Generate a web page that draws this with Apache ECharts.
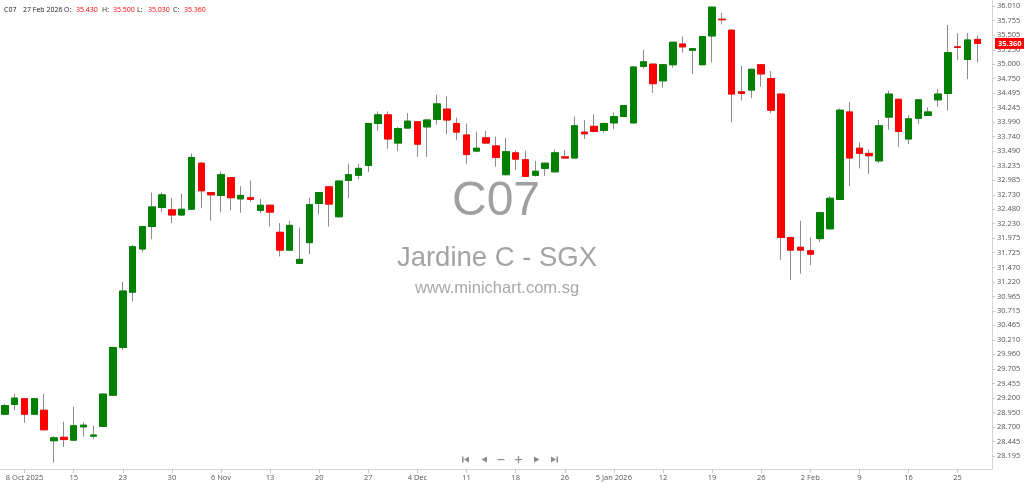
<!DOCTYPE html>
<html><head><meta charset="utf-8">
<script src="https://cdn.jsdelivr.net/npm/echarts@6/dist/echarts.min.js"></script>
<style>html,body{margin:0;padding:0;background:#fff}#c{width:1024px;height:484px}</style>
</head><body><div id="c"></div>
<script>
const symbol = 'C07';
const stockName = 'Jardine C - SGX';
const website = 'www.minichart.com.sg';

const dates = [
 '2025-10-06','2025-10-07','2025-10-08','2025-10-09','2025-10-10','2025-10-13','2025-10-14','2025-10-15','2025-10-16','2025-10-17',
 '2025-10-21','2025-10-22','2025-10-23','2025-10-24','2025-10-27','2025-10-28','2025-10-29','2025-10-30','2025-10-31',
 '2025-11-03','2025-11-04','2025-11-05','2025-11-06','2025-11-07','2025-11-10','2025-11-11','2025-11-12','2025-11-13','2025-11-14',
 '2025-11-17','2025-11-18','2025-11-19','2025-11-20','2025-11-21','2025-11-24','2025-11-25','2025-11-26','2025-11-27','2025-11-28',
 '2025-12-01','2025-12-02','2025-12-03','2025-12-04','2025-12-05','2025-12-08','2025-12-09','2025-12-10','2025-12-11','2025-12-12',
 '2025-12-15','2025-12-16','2025-12-17','2025-12-18','2025-12-19','2025-12-22','2025-12-23','2025-12-24','2025-12-26','2025-12-29',
 '2025-12-30','2025-12-31',
 '2026-01-02','2026-01-05','2026-01-06','2026-01-07','2026-01-08','2026-01-09','2026-01-12','2026-01-13','2026-01-14','2026-01-15',
 '2026-01-16','2026-01-19','2026-01-20','2026-01-21','2026-01-22','2026-01-23','2026-01-26','2026-01-27','2026-01-28','2026-01-29','2026-01-30',
 '2026-02-02','2026-02-03','2026-02-04','2026-02-05','2026-02-06','2026-02-09','2026-02-10','2026-02-11','2026-02-12','2026-02-13',
 '2026-02-16','2026-02-19','2026-02-20','2026-02-23','2026-02-24','2026-02-25','2026-02-26','2026-02-27'
];
const open = [
 28.92,29.09,29.19,28.92,28.99,28.46,28.52,28.47,28.70,28.54,
 28.71,29.25,30.08,31.04,31.79,32.18,32.51,32.47,32.38,32.48,
 33.28,32.77,32.72,33.03,32.66,32.68,32.46,32.55,32.08,31.77,
 31.54,31.90,32.58,32.87,32.35,32.98,33.07,33.24,33.97,34.12,
 33.63,33.89,34.00,33.91,34.04,34.22,33.97,33.77,33.49,33.72,
 33.58,33.08,33.46,33.34,33.07,33.19,33.13,33.39,33.37,33.82,
 33.92,33.85,33.98,34.09,33.98,34.96,35.00,34.71,34.99,35.35,
 35.24,34.99,35.49,35.78,35.59,34.52,34.55,34.99,34.75,34.48,
 31.99,31.82,31.76,31.97,32.14,32.65,34.17,33.54,33.45,33.32,
 34.08,34.39,33.70,34.06,34.11,34.38,34.49,35.30,35.08,35.43
];
const high = [
 29.10,29.28,29.20,29.20,29.28,28.54,28.79,29.05,28.78,28.72,
 29.27,30.09,31.22,31.86,32.18,32.77,32.77,32.68,32.75,33.45,
 33.30,32.78,33.14,33.04,32.88,32.98,32.66,32.56,32.24,32.28,
 32.16,32.68,32.78,32.88,32.98,33.27,33.27,33.98,34.18,34.18,
 33.91,34.15,34.01,34.04,34.47,34.44,34.07,33.97,33.83,33.84,
 33.74,33.72,33.50,33.50,33.32,33.29,33.52,33.51,34.09,34.03,
 34.13,33.98,34.16,34.29,34.96,35.25,35.01,35.00,35.39,35.48,
 35.28,35.49,36.00,35.89,35.60,34.97,34.92,35.00,34.88,34.49,
 32.00,32.28,31.99,32.43,32.71,34.23,34.34,33.64,33.52,34.03,
 34.54,34.40,34.12,34.39,34.25,34.57,35.68,35.54,35.54,35.50
];
const low = [
 28.91,28.99,28.77,28.91,28.64,28.08,28.35,28.46,28.53,28.49,
 28.70,29.24,30.04,30.88,31.73,31.96,32.43,32.24,32.37,32.47,
 32.50,32.28,32.43,32.46,32.42,32.61,32.41,32.18,31.66,31.76,
 31.53,31.70,32.39,32.18,32.34,32.67,33.00,33.13,33.84,33.53,
 33.49,33.88,33.39,33.39,33.95,33.78,33.68,33.27,33.48,33.62,
 33.22,33.07,33.16,33.04,33.05,33.06,33.12,33.36,33.36,33.70,
 33.82,33.81,33.87,34.08,33.97,34.92,34.50,34.59,34.94,35.20,
 34.83,34.98,35.03,35.69,33.99,34.37,34.41,34.61,34.15,31.60,
 31.25,31.36,31.51,31.91,32.13,32.64,32.88,33.19,33.09,33.28,
 33.86,33.56,33.61,33.96,34.10,34.26,34.19,35.07,34.74,35.03
];
const close = [
 29.07,29.20,28.92,29.19,28.65,28.51,28.48,28.72,28.73,28.56,
 29.27,30.08,31.06,31.83,32.18,32.52,32.73,32.38,32.48,33.38,
 32.80,32.73,33.08,32.68,32.72,32.65,32.55,32.43,31.77,32.20,
 31.61,32.56,32.77,32.57,32.97,33.08,33.19,33.97,34.12,33.70,
 33.88,34.01,33.61,34.03,34.31,34.03,33.82,33.43,33.54,33.63,
 33.38,33.48,33.35,33.05,33.14,33.28,33.46,33.37,33.93,33.79,
 33.83,33.97,34.09,34.28,34.95,35.04,34.66,34.99,35.38,35.30,
 35.27,35.48,35.99,35.77,34.48,34.49,34.91,34.83,34.20,31.99,
 31.77,31.77,31.70,32.42,32.67,34.20,33.37,33.45,33.41,33.93,
 34.48,33.83,34.05,34.38,34.17,34.48,35.20,35.29,35.42,35.36
];
const yTickLabels = [
 '36.010','35.755','35.505','35.250','35.000','34.750','34.495','34.245','33.990','33.740',
 '33.490','33.235','32.985','32.730','32.480','32.230','31.975','31.725','31.470','31.220',
 '30.965','30.715','30.465','30.210','29.960','29.705','29.455','29.200','28.950','28.700',
 '28.445','28.195'
];

const MONTHS = ['Jan','Feb','Mar','Apr','May','Jun','Jul','Aug','Sep','Oct','Nov','Dec'];
const FIRST_LABEL = 2, LABEL_STEP = 5;
function isLabelIdx(i){ return i >= FIRST_LABEL && i < dates.length && (i - FIRST_LABEL) % LABEL_STEP === 0; }
const xLabelText = {};
(function(){
  let prevM = null, prevY = null;
  for (let i = 0; i < dates.length; i++) {
    if (!isLabelIdx(i)) continue;
    const [y, m, d] = dates[i].split('-').map(Number);
    let t = String(d);
    if (prevM === null || m !== prevM) t = d + ' ' + MONTHS[m - 1];
    if (prevY === null || y !== prevY) t += ' ' + y;
    xLabelText[i] = t;
    prevM = m; prevY = y;
  }
})();

const n = dates.length;
const wickData = dates.map((_, i) => [open[i], close[i], low[i], high[i]]);
const bodyData = dates.map((_, i) => [open[i], close[i], Math.min(open[i], close[i]), Math.max(open[i], close[i])]);
const last = n - 1;
const lastClose = close[last];

function fmtHeaderDate(s){ const [y,m,d] = s.split('-').map(Number); return d + ' ' + MONTHS[m-1] + ' ' + y; }

const FONT = '"Open Sans", "DejaVu Sans", sans-serif';
const headerParts = [
  {x: 4, t: symbol, c: '#222'},
  {x: 23, t: fmtHeaderDate(dates[last]), c: '#222'},
  {x: 64, t: 'O:', c: '#222'},
  {x: 76, t: open[last].toFixed(3), c: '#ff0000'},
  {x: 102, t: 'H:', c: '#222'},
  {x: 113, t: high[last].toFixed(3), c: '#ff0000'},
  {x: 137, t: 'L:', c: '#222'},
  {x: 148, t: low[last].toFixed(3), c: '#ff0000'},
  {x: 173, t: 'C:', c: '#222'},
  {x: 184, t: close[last].toFixed(3), c: '#ff0000'}
];

const navColor = '#8a8a8a';
const graphics = [
  {type:'text', z: 0, silent: true, style:{text: symbol, font: '48px "Liberation Sans", Arial, sans-serif', fill: '#a0a0a0', align: 'center', verticalAlign: 'middle'}, position: [496, 202]},
  {type:'text', z: 0, silent: true, style:{text: stockName, font: '27.5px "Liberation Sans", Arial, sans-serif', fill: '#a3a3a3', align: 'center', verticalAlign: 'middle'}, position: [497, 258]},
  {type:'text', z: 0, silent: true, style:{text: website, font: '16.5px "Liberation Sans", Arial, sans-serif', fill: '#a8a8a8', align: 'center', verticalAlign: 'middle'}, position: [497, 288]},
  {type:'rect', shape:{x: 462, y: 456.5, width: 1.5, height: 6}, style:{fill: navColor}},
  {type:'polygon', shape:{points:[[469,456.5],[469,462.5],[464,459.5]]}, style:{fill: navColor}},
  {type:'polygon', shape:{points:[[487,456.5],[487,462.5],[481.5,459.5]]}, style:{fill: navColor}},
  {type:'rect', shape:{x: 497.5, y: 459, width: 7, height: 1.2}, style:{fill: navColor}},
  {type:'rect', shape:{x: 515, y: 459, width: 7, height: 1.2}, style:{fill: navColor}},
  {type:'rect', shape:{x: 517.9, y: 456, width: 1.2, height: 7}, style:{fill: navColor}},
  {type:'polygon', shape:{points:[[534,456.5],[534,462.5],[539.5,459.5]]}, style:{fill: navColor}},
  {type:'polygon', shape:{points:[[551,456.5],[551,462.5],[556,459.5]]}, style:{fill: navColor}},
  {type:'rect', shape:{x: 556.5, y: 456.5, width: 1.5, height: 6}, style:{fill: navColor}}
].concat(headerParts.map(p => ({
  type:'text', silent: true, z: 10,
  style:{text: p.t, x: p.x, y: 10, font: '7px ' + FONT, fill: p.c, verticalAlign: 'middle'}
})));

const chart = echarts.init(document.getElementById('c'), null, {renderer: 'canvas'});
chart.setOption({
  animation: false,
  backgroundColor: '#ffffff',
  graphic: graphics,
  grid: {left: 0, top: 0, width: 992, height: 469, containLabel: false},
  xAxis: {
    type: 'category', data: dates, max: n, boundaryGap: true,
    axisLine: {lineStyle: {color: '#d4d4d4', width: 1}},
    axisTick: {show: true, alignWithLabel: true, length: 4, interval: (i) => isLabelIdx(i), lineStyle: {color: '#c8c8c8'}},
    axisLabel: {interval: (i) => isLabelIdx(i), formatter: (v, i) => xLabelText[i] || '', color: '#555', fontSize: 7.5, fontFamily: FONT, margin: 5},
    splitLine: {show: false}
  },
  yAxis: {
    type: 'value', position: 'right', min: 27.969, max: 36.114, scale: true,
    axisLine: {show: true, lineStyle: {color: '#d4d4d4', width: 1}},
    axisTick: {show: true, length: 3, customValues: yTickLabels.map(Number), lineStyle: {color: '#c8c8c8'}},
    axisLabel: {customValues: yTickLabels.map(Number), formatter: (v) => yTickLabels.find(s => Math.abs(Number(s) - v) < 1e-6) || v.toFixed(3), color: '#555', fontSize: 7.5, fontFamily: FONT, margin: 5},
    splitLine: {show: false}
  },
  series: [
    {
      name: 'wick', type: 'candlestick', data: wickData, barWidth: 7, z: 2, silent: true,
      itemStyle: {color: 'rgba(0,0,0,0)', color0: 'rgba(0,0,0,0)', borderColor: '#8c8c8c', borderColor0: '#8c8c8c', borderWidth: 1},
      emphasis: {disabled: true}
    },
    {
      name: 'body', type: 'candlestick', data: bodyData, barWidth: 7, z: 3, silent: true, clip: false,
      itemStyle: {color: '#008000', color0: '#ff0000', borderColor: '#008000', borderColor0: '#ff0000', borderWidth: 1},
      emphasis: {disabled: true},
      markLine: {
        silent: true, symbol: ['none', 'none'], animation: false, z: 20,
        lineStyle: {color: 'rgba(255,0,0,0)', width: 1, type: 'solid'},
        label: {show: true, position: 'end', formatter: () => lastClose.toFixed(3), color: '#ffffff', backgroundColor: '#ff0000', padding: [2, 3, 1, 3], fontSize: 7.5, fontWeight: 'bold', fontFamily: FONT, distance: 3, opacity: 1},
        data: [{yAxis: lastClose}]
      }
    }
  ]
});
</script></body></html>
